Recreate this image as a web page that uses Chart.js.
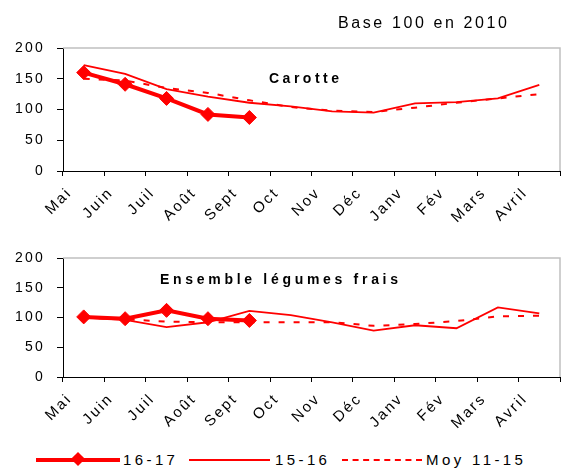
<!DOCTYPE html>
<html>
<head>
<meta charset="utf-8">
<script src="https://cdn.jsdelivr.net/npm/chart.js@4/dist/chart.umd.min.js"></script>
<style>
  body { margin: 0; background: #fff; }
  #wrap { position: relative; width: 561px; height: 468px; font-family: 'Liberation Sans', Arial, sans-serif; color: #000; }
  canvas { position: absolute; left: 0; }
  .txt { position: absolute; white-space: nowrap; }
  .sample { position: absolute; }
</style>
</head>
<body>
<div id="wrap">
  <canvas id="carotte" width="561" height="240" style="top:0"></canvas>
  <canvas id="legumes" width="561" height="200" style="top:240px"></canvas>

  <div class="txt" style="left:338px;top:15px;font-size:16px;line-height:16px;letter-spacing:2.6px">Base 100 en 2010</div>
  <div class="txt" style="left:269px;top:71px;font-size:14px;line-height:14px;font-weight:bold;letter-spacing:3.5px">Carotte</div>
  <div class="txt" style="left:160px;top:272px;font-size:14px;line-height:14px;font-weight:bold;letter-spacing:3.7px">Ensemble légumes frais</div>

  <!-- legend -->
  <div class="sample" style="left:36px;top:458px;width:84px;height:0;border-top:4px solid #ff0000"></div>
  <div class="sample" style="left:73px;top:454px;width:10px;height:10px;background:#ff0000;transform:rotate(45deg)"></div>
  <div class="txt" style="left:123px;top:452px;font-size:15px;line-height:15px;letter-spacing:3.4px">16-17</div>
  <div class="sample" style="left:189px;top:459px;width:81px;height:0;border-top:2px solid #ff0000"></div>
  <div class="txt" style="left:275px;top:452px;font-size:15px;line-height:15px;letter-spacing:3.4px">15-16</div>
  <div class="sample" style="left:342px;top:459px;width:80px;height:0;border-top:2px dashed #ff0000"></div>
  <div class="txt" style="left:426px;top:452px;font-size:15px;line-height:15px;letter-spacing:3.4px">Moy 11-15</div>
</div>
<script>
const months = ['Mai', 'Juin', 'Juil', 'Août', 'Sept', 'Oct', 'Nov', 'Déc', 'Janv', 'Fév', 'Mars', 'Avril'];
const yTicks = [0, 50, 100, 150, 200];

// Carotte
const carotte1617 = [160, 141, 118, 92, 87, null, null, null, null, null, null, null];
const carotte1516 = [172, 158, 133, 121, 111, 105, 97, 95, 110, 112, 118, 140];
const carotteMoy = [150, 147, 135, 127, 115, 104, 98, 96, 103, 111, 118, 125];

// Ensemble légumes frais
const legumes1617 = [101, 98, 112, 98, 95, null, null, null, null, null, null, null];
const legumes1516 = [100, 96, 84, 92, 111, 104, 92, 78, 87, 82, 117, 107];
const legumesMoy = [100, 97, 93, 92, 92, 92, 92, 86, 89, 94, 102, 103];

const RED = '#ff0000';
const FONT = "'Liberation Sans', Arial, sans-serif";

// grey top/right frame of the plot area + spaced-out text like the original
const framePlugin = {
  id: 'frame',
  beforeDraw(chart) {
    chart.ctx.letterSpacing = '2.2px';
  },
  beforeDatasetsDraw(chart) {
    const { ctx, chartArea: a } = chart;
    ctx.save();
    ctx.strokeStyle = '#c0c0c0';
    ctx.lineWidth = 1.5;
    ctx.beginPath();
    ctx.moveTo(a.left, a.top);
    ctx.lineTo(a.right, a.top);
    ctx.lineTo(a.right, a.bottom);
    ctx.stroke();
    ctx.restore();
  },
};

function makeChart(id, s1617, s1516, sMoy, padTop, xHeight) {
  return new Chart(document.getElementById(id), {
    type: 'line',
    data: {
      labels: months,
      datasets: [
        {
          label: '16-17',
          data: s1617,
          borderColor: RED,
          backgroundColor: RED,
          borderWidth: 4,
          pointStyle: 'rectRot',
          pointRadius: 7,
          pointBorderWidth: 1,
          tension: 0,
        },
        {
          label: '15-16',
          data: s1516,
          borderColor: RED,
          borderWidth: 1.8,
          pointRadius: 0,
          tension: 0,
        },
        {
          label: 'Moy 11-15',
          data: sMoy,
          borderColor: RED,
          borderWidth: 2,
          borderDash: [6, 9],
          pointRadius: 0,
          tension: 0,
        },
      ],
    },
    options: {
      responsive: false,
      animation: false,
      devicePixelRatio: 1,
      layout: { autoPadding: false, padding: { top: padTop, right: 1, left: 0, bottom: 0 } },
      plugins: { legend: { display: false }, tooltip: { enabled: false } },
      scales: {
        x: {
          offset: true,
          grid: { offset: true, drawOnChartArea: false, tickLength: 5, color: '#000' },
          border: { color: '#000' },
          ticks: {
            autoSkip: false,
            minRotation: 45,
            maxRotation: 45,
            labelOffset: -14,
            padding: 8,
            color: '#000',
            font: { family: FONT, size: 15 },
          },
          afterFit(scale) {
            scale.height = xHeight;
            scale.paddingLeft = 0;
            scale.paddingRight = 0;
          },
        },
        y: {
          min: 0,
          max: 200,
          afterBuildTicks(scale) { scale.ticks = yTicks.map((v) => ({ value: v })); },
          grid: { drawOnChartArea: false, tickLength: 6, color: '#000' },
          border: { color: '#000' },
          ticks: { padding: 12, color: '#000', font: { family: FONT, size: 14 } },
          afterFit(scale) {
            scale.width = 63;
            scale.paddingTop = 0;
            scale.paddingBottom = 0;
          },
        },
      },
    },
    plugins: [framePlugin],
  });
}

makeChart('carotte', carotte1617, carotte1516, carotteMoy, 48, 69);
makeChart('legumes', legumes1617, legumes1516, legumesMoy, 18, 63);
</script>
</body>
</html>
